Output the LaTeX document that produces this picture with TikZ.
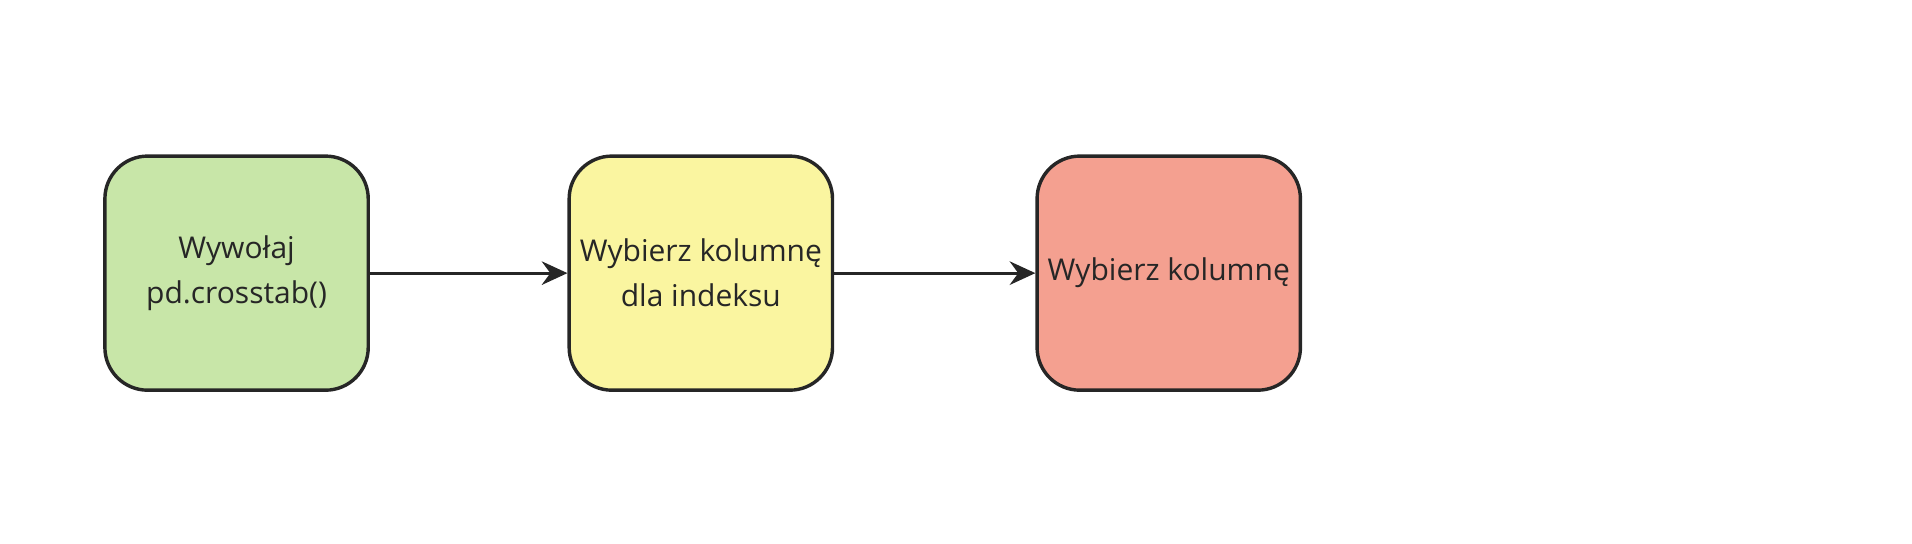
\documentclass[tikz,border=0pt]{standalone}
\usepackage{fontspec}
\setmainfont{Open Sans}
\usetikzlibrary{positioning,arrows.meta}
\begin{document}
\begin{tikzpicture}[x=0.02cm,y=0.02cm,
		box/.style={draw=black!85,line width=1.6pt,rounded corners=0.7cm,minimum width=4.32cm,minimum height=3.84cm,align=center,font=\fontsize{14}{21}\selectfont,text=black!85},
		flow/.style={draw=black!85,line width=1.4pt,-{Stealth[length=12pt,width=11pt,inset=4pt]}}]
	\useasboundingbox (0,0) rectangle (1568,446);
	\node[box,fill={rgb,255:red,200;green,230;blue,168}]	(call)	at (194,222)	{Wywołaj\\pd.crosstab()};
	\node[box,fill={rgb,255:red,250;green,245;blue,160},node distance=3.24cm,right=of call]	(index)	{Wybierz kolumnę\\dla indeksu};
	\node[box,fill={rgb,255:red,244;green,160;blue,144},node distance=3.3cm,right=of index]	(column)	{Wybierz kolumnę};

	\draw[flow] (call) -- (index);
	\draw[flow] (index) -- (column);
\end{tikzpicture}
\end{document}
